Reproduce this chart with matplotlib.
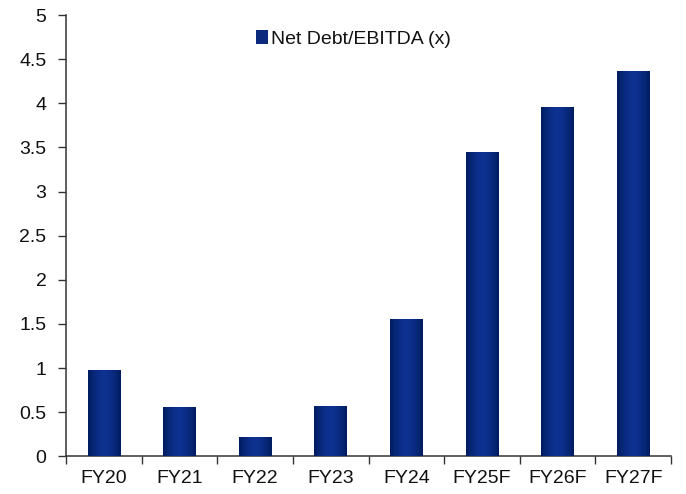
import matplotlib
matplotlib.use("Agg")
import matplotlib.pyplot as plt
import numpy as np
from matplotlib.patches import Patch
from matplotlib.ticker import FuncFormatter, FixedLocator

categories = ["FY20", "FY21", "FY22", "FY23", "FY24", "FY25F", "FY26F", "FY27F"]
values = [0.98, 0.56, 0.22, 0.57, 1.56, 3.45, 3.96, 4.36]
series_name = "Net Debt/EBITDA (x)"
yticks = [0, 0.5, 1, 1.5, 2, 2.5, 3, 3.5, 4, 4.5, 5]

plt.rcParams['font.family'] = ['Liberation Sans', 'DejaVu Sans']

W, H = 686, 494
fig = plt.figure(figsize=(W / 100, H / 100), dpi=100)
ax = fig.add_axes([66 / W, (H - 456.3) / H, (671 - 66) / W, (456.3 - 15) / H])

x = np.arange(len(categories))
bw = 0.43
bars = ax.bar(x, values, width=bw, color="#0b2a7e", zorder=2)

# horizontal gradient: dark edges, lighter centre
edge = np.array([0, 28, 95]) / 255
centre = np.array([14, 50, 145]) / 255
t = np.linspace(-1, 1, 64)
w = 1 - np.abs(t) ** 1.6
grad = (edge[None, :] * (1 - w[:, None]) + centre[None, :] * w[:, None])[None, :, :]
for b in bars:
    x0, y0 = b.get_x(), b.get_y()
    bwid, bh = b.get_width(), b.get_height()
    im = ax.imshow(grad, extent=[x0, x0 + bwid, y0, y0 + bh], aspect="auto",
                   interpolation="bilinear", zorder=3)
    im.set_clip_path(b)

ax.set_xlim(-0.5, len(categories) - 0.5)
ax.set_ylim(0, 5)
ax.set_yticks(yticks)
ax.yaxis.set_major_formatter(FuncFormatter(lambda v, p: f"{v:g}"))

ax.xaxis.set_major_locator(FixedLocator(np.arange(-0.5, len(categories), 1.0)))
ax.xaxis.set_minor_locator(FixedLocator(x))
ax.set_xticklabels([], minor=False)
ax.set_xticks(x, categories, minor=True)
ax.tick_params(axis="x", which="major", length=6, width=1, direction="out", color="#333333")
ax.tick_params(axis="x", which="minor", length=0, pad=10, labelsize=14, labelcolor="#111111")
ax.tick_params(axis="y", length=6, width=1, direction="out", pad=8, labelsize=14,
               labelcolor="#111111", color="#333333")

for s in ["top", "right"]:
    ax.spines[s].set_visible(False)
for s in ["left", "bottom"]:
    ax.spines[s].set_color("#333333")
    ax.spines[s].set_linewidth(1.1)

handle = Patch(facecolor="#0b2a7e", edgecolor="none")
fig.legend([handle], [series_name], loc="center left",
           bbox_to_anchor=(256 / W, 1 - 39 / H), frameon=False, fontsize=14,
           handlelength=0.6, handleheight=0.75, handletextpad=0.15,
           borderpad=0, borderaxespad=0, labelcolor="#111111")

fig.savefig("out.png", dpi=100)
